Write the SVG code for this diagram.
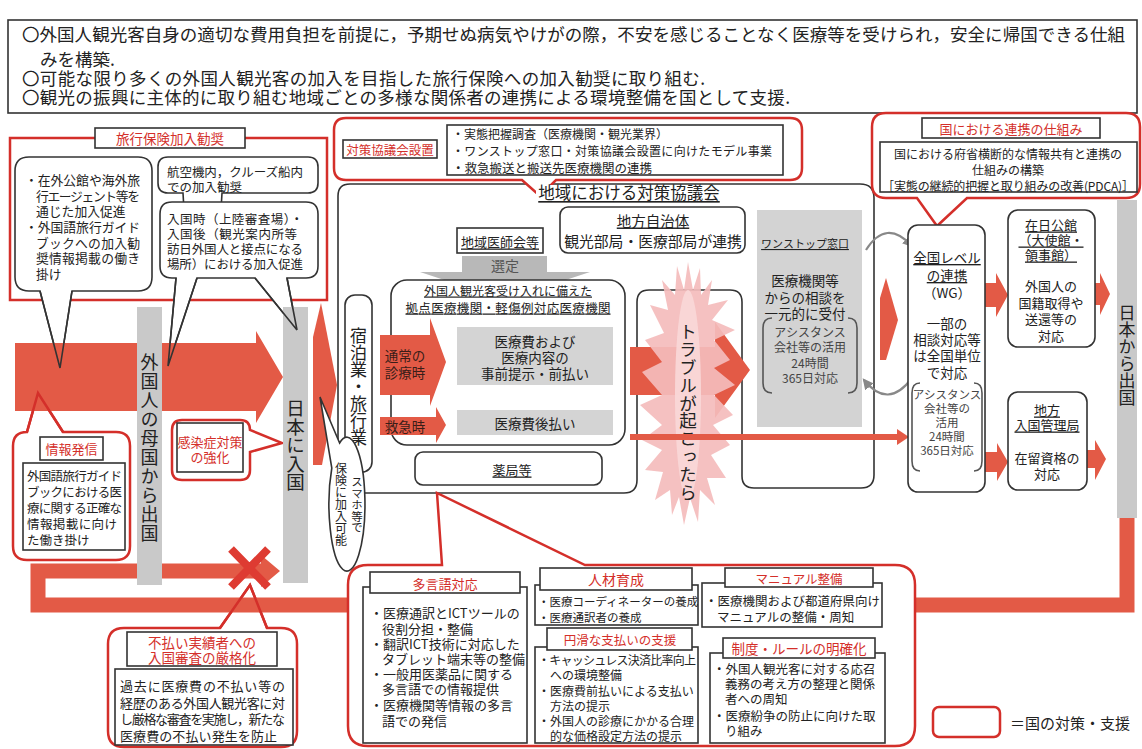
<svg xmlns="http://www.w3.org/2000/svg" width="1142" height="749" viewBox="0 0 1142 749">
<style>
text{font-family:"Noto Sans CJK JP","Noto Sans",sans-serif;fill:#222;dominant-baseline:central}
.r{fill:#d42f2a}
.c{text-anchor:middle}
.u{text-decoration:underline}
.v{writing-mode:vertical-rl;text-orientation:upright}
.bk{fill:#fff;stroke:#333;stroke-width:1.6}
.rd{fill:#fff;stroke:#d42f2a;stroke-width:2.5}
.ln{fill:none;stroke:#333;stroke-width:1.6}
.rl{fill:none;stroke:#d42f2a;stroke-width:2.5}
.ar{fill:#e35a46}
.bar{fill:#c9c9c9}
.gp{fill:#d4d4d4}
.br{fill:none;stroke:#555;stroke-width:1.6}
.gs{fill:#444}
</style>
<defs>
<marker id="ga" viewBox="0 0 10 10" refX="8" refY="5" markerWidth="5" markerHeight="5" orient="auto"><path d="M0,0 L10,5 L0,10 z" fill="#888"/></marker>
</defs>
<rect width="1142" height="749" fill="#fff"/>

<g id="header">
<rect x="8" y="20" width="1129" height="93" class="bk"/>
<text x="22" y="33" font-size="17.5" textLength="1103">〇外国人観光客自身の適切な費用負担を前提に，予期せぬ病気やけがの際，不安を感じることなく医療等を受けられ，安全に帰国できる仕組</text>
<text x="40" y="58" font-size="17.5">みを構築.</text>
<text x="22" y="77" font-size="17.5" textLength="683">〇可能な限り多くの外国人観光客の加入を目指した旅行保険への加入勧奨に取り組む.</text>
<text x="22" y="96" font-size="17.5" textLength="768">〇観光の振興に主体的に取り組む地域ごとの多様な関係者の連携による環境整備を国として支援.</text>
</g>

<g id="travel-insurance">
<rect x="10" y="138" width="317" height="162" class="rl"/>
<rect x="95" y="128" width="150" height="20" class="bk"/>
<text x="170" y="138" class="r c" font-size="13.5">旅行保険加入勧奨</text>
</g>

<g id="bubble-embassy">
<path d="M 29 157 H 138 Q 152 157 152 171 V 277 Q 152 291 138 291 H 72 L 60 368 L 40 291 H 29 Q 15 291 15 277 V 171 Q 15 157 29 157 Z" class="bk"/>
<text x="25" y="179" font-size="12.8" textLength="115">・在外公館や海外旅</text>
<text x="36" y="195" font-size="12.8" textLength="104">行エージェント等を</text>
<text x="36" y="210" font-size="12.8">通じた加入促進</text>
<text x="25" y="226" font-size="12.8" textLength="115">・外国語旅行ガイド</text>
<text x="36" y="242" font-size="12.8" textLength="104">ブックへの加入勧</text>
<text x="36" y="257" font-size="12.8" textLength="104">奨情報掲載の働き</text>
<text x="36" y="273" font-size="12.8">掛け</text>
</g>

<g id="bubble-aircraft">
<path d="M 168 157 H 308 Q 318 157 318 167 V 183 Q 318 193 308 193 H 222 L 221 210 L 184 210 L 183 193 H 168 Q 158 193 158 183 V 167 Q 158 157 168 157 Z" class="bk"/>
<text x="167" y="171" font-size="12.5" textLength="136">航空機内，クルーズ船内</text>
<text x="167" y="186" font-size="12.5">での加入勧奨</text>
</g>

<g id="bubble-entry">
<path d="M 172 202 H 306 Q 318 202 318 214 V 266 Q 318 278 306 278 H 287 L 297 330 L 255 278 H 197 L 168 366 L 176 278 H 172 Q 160 278 160 266 V 214 Q 160 202 172 202 Z" class="bk"/>
<text x="167" y="218" font-size="12.5" textLength="136">入国時（上陸審査場）・</text>
<text x="167" y="233" font-size="12.5" textLength="130">入国後（観光案内所等</text>
<text x="167" y="248" font-size="12.5" textLength="136">訪日外国人と接点になる</text>
<text x="167" y="263" font-size="12.5" textLength="136">場所）における加入促進</text>
</g>

<g id="info-callout">
<path d="M 27 432 L 38 393 L 63 432 H 116 Q 130 432 130 446 V 546 Q 130 560 116 560 H 27 Q 13 560 13 546 V 446 Q 13 432 27 432 Z" class="rd"/>
<rect x="40" y="437" width="63" height="23" class="bk"/>
<text x="71.5" y="448.5" class="r c" font-size="13">情報発信</text>
<rect x="23" y="463" width="102" height="87" class="bk"/>
<text x="27" y="475" font-size="12.5" textLength="95">外国語旅行ガイド</text>
<text x="27" y="491" font-size="12.5" textLength="95">ブックにおける医</text>
<text x="27" y="507" font-size="12.5" textLength="95">療に関する正確な</text>
<text x="27" y="523" font-size="12.5" textLength="90">情報掲載に向け</text>
<text x="27" y="539" font-size="12.5">た働き掛け</text>
</g>

<g id="infection-callout">
<path d="M 182 420 H 240 Q 250 420 250 430 L 282 443 L 250 452 V 470 Q 250 480 240 480 H 182 Q 172 480 172 470 V 430 Q 172 420 182 420 Z" class="rd"/>
<rect x="177" y="423" width="66" height="49" class="bk"/>
<text x="210" y="441" class="r c" font-size="13">感染症対策</text>
<text x="210" y="456" class="r c" font-size="13">の強化</text>
</g>

<g id="nonpayment-callout">
<path d="M 124 628 H 220 L 250 585 L 267 628 H 281 Q 297 628 297 644 V 731 Q 297 747 281 747 H 124 Q 108 747 108 731 V 644 Q 108 628 124 628 Z" class="rd"/>
<rect x="127" y="632" width="150" height="34" class="bk"/>
<text x="202" y="642" class="r c" font-size="13.5">不払い実績者への</text>
<text x="202" y="657" class="r c" font-size="13.5">入国審査の厳格化</text>
<rect x="115" y="669" width="178" height="76" class="bk"/>
<text x="120" y="685" font-size="13" textLength="165">過去に医療費の不払い等の</text>
<text x="120" y="702" font-size="13" textLength="165">経歴のある外国人観光客に対</text>
<text x="120" y="718" font-size="13" textLength="165">し厳格な審査を実施し，新たな</text>
<text x="120" y="735" font-size="13" textLength="157">医療費の不払い発生を防止</text>
</g>

<g id="council-frame">
<path d="M 350 184 H 860 Q 874 184 874 198 V 475 Q 874 488 861 488 H 754 Q 742 488 742 476 V 302 Q 742 290 730 290 H 649 Q 637 290 637 302 V 480 Q 637 493 624 493 H 350 Q 338 493 338 481 V 196 Q 338 184 350 184 Z" class="ln"/>
</g>

<g id="council-setup-callout">
<path d="M 346 118 H 790 Q 802 118 802 130 V 168 Q 802 180 790 180 H 556 L 540 196 L 522 180 H 346 Q 334 180 334 168 V 130 Q 334 118 346 118 Z" class="rd"/>
<rect x="343" y="140" width="94" height="18" class="bk"/>
<text x="390" y="149" class="r c" font-size="12.5">対策協議会設置</text>
<rect x="447" y="125" width="336" height="50" class="bk"/>
<text x="452" y="133" font-size="12">・実態把握調査（医療機関・観光業界）</text>
<text x="452" y="150" font-size="12" textLength="320">・ワンストップ窓口・対策協議会設置に向けたモデル事業</text>
<text x="452" y="167" font-size="12.5">・救急搬送と搬送先医療機関の連携</text>
</g>

<g id="council-title">
<rect x="536" y="185" width="186" height="18" fill="#fff"/>
<text x="629" y="192" class="c u" font-size="16.5">地域における対策協議会</text>
</g>

<g id="connectors">
<polygon points="15,343 256,343 256,331 283,377 256,423 256,411 15,411" class="ar"/>
<polygon points="313,337 321,303 337,385 322,465 313,465" class="ar"/>
<polyline points="1127,518 1127,605 38,605 38,571 262,571" fill="none" stroke="#e35a46" stroke-width="15"/>
<polygon points="261,555 280,571 261,587" class="ar"/>
<path d="M 231 549 L 268 587 M 268 549 L 231 587" stroke="#de3b32" stroke-width="8"/>
<polygon points="630,347 715,347 715,322 750,370 715,418 715,395 630,395" class="ar"/>
<polygon points="880,298 886,278 898,320 886,360 880,360" class="ar"/>
<polygon points="985,283 996,283 996,273 1008,295 996,317 996,307 985,307" class="ar"/>
<polygon points="1095,283 1100,283 1100,273 1110,294 1100,315 1100,305 1095,305" class="ar"/>
<polygon points="985,452 997,452 997,443 1008,462 997,481 997,472 985,472" class="ar"/>
<polygon points="1087,450 1095,450 1095,440 1106,459 1095,480 1095,468 1087,468" class="ar"/>
<path d="M 866 250 Q 886 218 912 246" fill="none" stroke="#888" stroke-width="2.2" marker-end="url(#ga)"/>
<path d="M 912 378 Q 888 410 864 380" fill="none" stroke="#888" stroke-width="2.2" marker-end="url(#ga)"/>
</g>

<g id="bar-home-departure">
<rect x="137" y="307" width="25" height="278" class="bar"/>
<text x="149.5" y="353" class="v" font-size="18" letter-spacing="1">外国人の母国から出国</text>
</g>
<g id="bar-japan-entry">
<rect x="283" y="307" width="25" height="276" class="bar"/>
<text x="295.5" y="399" class="v" font-size="18.5">日本に入国</text>
</g>
<g id="bar-japan-departure">
<rect x="1117" y="200" width="20" height="318" class="bar"/>
<text x="1127" y="304" class="v" font-size="17">日本から出国</text>
</g>

<g id="callout-tails" fill="none">
<polyline points="40,291 60,368 72,291" stroke="#333" stroke-width="1.6"/>
<polyline points="176,278 168,366 197,278" stroke="#333" stroke-width="1.6"/>
<polyline points="255,278 297,330 287,278" stroke="#333" stroke-width="1.6"/>
<polyline points="27,432 38,393 63,432" stroke="#d42f2a" stroke-width="2.5"/>
<polyline points="220,628 250,585 267,628" stroke="#d42f2a" stroke-width="2.5"/>
</g>

<g id="lodging">
<rect x="345" y="295" width="27" height="177" rx="10" class="bk"/>
<text x="358.5" y="327" class="v" font-size="17">宿泊業・旅行業</text>
</g>

<g id="smartphone-bubble">
<path d="M 339.6 443 L 320 397 L 331.8 468 A 18 67 0 1 0 339.6 443 Z" class="bk"/>
<text x="357" y="476" class="v" font-size="11.5">スマホ等で</text>
<text x="341" y="462" class="v" font-size="12">保険に加入可能</text>
</g>

<g id="medical-association">
<rect x="457" y="228" width="86" height="25" class="bk"/>
<text x="500" y="241" class="c u" font-size="13">地域医師会等</text>
</g>

<g id="local-government">
<rect x="560" y="207" width="185" height="46" rx="8" class="bk"/>
<text x="653" y="220" class="c u" font-size="14.5">地方自治体</text>
<text x="653" y="240" class="c" font-size="14.8">観光部局・医療部局が連携</text>
</g>

<g id="selection">
<polygon points="462,256 547,256 547,272 590,272 505,300 420,272 462,272" fill="#b8b8b8"/>
<text x="505" y="265" class="c" font-size="14" style="fill:#555">選定</text>
</g>

<g id="hospitals">
<rect x="391" y="280" width="234" height="165" rx="16" class="bk"/>
<text x="508" y="290" class="c u" font-size="12">外国人観光客受け入れに備えた</text>
<text x="508" y="307" class="c u" font-size="12.5" textLength="205">拠点医療機関・軽傷例対応医療機関</text>
<rect x="457" y="327" width="156" height="58" class="gp"/>
<text x="535" y="341" class="c" font-size="13.5">医療費および</text>
<text x="535" y="357" class="c" font-size="13.5">医療内容の</text>
<text x="535" y="373" class="c" font-size="13.5">事前提示・前払い</text>
<rect x="457" y="410" width="156" height="25" class="gp"/>
<text x="535" y="423" class="c" font-size="13.5">医療費後払い</text>
<polygon points="380,335 430,335 430,318 446,362 430,406 430,395 380,395" class="ar"/>
<text x="405" y="355" class="c" font-size="13.5" style="fill:#3a1d18">通常の</text>
<text x="405" y="372" class="c" font-size="13.5" style="fill:#3a1d18">診療時</text>
<polygon points="380,417 436,417 436,407 446,425 436,443 436,435 380,435" class="ar"/>
<text x="405" y="426" class="c" font-size="13.5" style="fill:#3a1d18">救急時</text>
</g>

<g id="pharmacy">
<rect x="415" y="452" width="187" height="33" rx="8" class="bk"/>
<text x="512" y="469" class="c u" font-size="13">薬局等</text>
</g>

<g id="trouble">
<polygon points="688,262 693,290 700,268 701,295 712,280 708,305 728,300 712,320 735,330 714,340 730,360 714,368 735,385 714,395 733,415 713,425 730,445 711,455 726,478 707,478 715,505 700,490 698,522 690,498 684,525 679,497 672,515 670,490 655,500 663,472 645,470 662,450 642,440 662,425 640,405 662,395 642,372 662,362 645,340 664,333 650,305 668,310 662,280 675,295 677,266 684,290" fill="#f4bcbc" opacity="0.92"/>
<ellipse cx="688" cy="395" rx="13" ry="105" fill="#f9d8d8" opacity="0.9"/>
<text x="688" y="323" class="v" font-size="17.5" letter-spacing="0.3">トラブルが起こったら</text>
</g>

<g id="red-line">
<line x1="630" y1="437" x2="898" y2="437" stroke="#e35a46" stroke-width="6"/>
<polygon points="897,429 909,437 897,445" class="ar"/>
</g>

<g id="one-stop">
<rect x="757" y="210" width="105" height="217" fill="#d3d3d3"/>
<text x="805" y="243" class="c u" font-size="11">ワンストップ窓口</text>
<text x="805" y="280" class="c" font-size="13.5">医療機関等</text>
<text x="805" y="297" class="c" font-size="13.5">からの相談を</text>
<text x="805" y="313" class="c" font-size="13.5">一元的に受付</text>
<path d="M 772 318 Q 763 318 763 328 V 383 Q 763 393 772 393 M 848 318 Q 857 318 857 328 V 383 Q 857 393 848 393" class="br"/>
<text x="810" y="331" class="c gs" font-size="12">アシスタンス</text>
<text x="810" y="346" class="c gs" font-size="12">会社等の活用</text>
<text x="810" y="362" class="c gs" font-size="12">24時間</text>
<text x="810" y="377" class="c gs" font-size="12">365日対応</text>
</g>

<g id="national-callout">
<path d="M 886 113 H 1126 Q 1140 113 1140 127 V 184 Q 1140 198 1126 198 H 967 L 937 226 L 917 198 H 886 Q 872 198 872 184 V 127 Q 872 113 886 113 Z" class="rd"/>
<rect x="922" y="118" width="178" height="20" class="bk"/>
<text x="1011" y="128" class="r c" font-size="13">国における連携の仕組み</text>
<rect x="880" y="142" width="257" height="50" class="bk"/>
<text x="1008" y="153" class="c" font-size="12">国における府省横断的な情報共有と連携の</text>
<text x="1008" y="169" class="c" font-size="12">仕組みの構築</text>
<text x="1008" y="185" class="c" font-size="12" textLength="252">［実態の継続的把握と取り組みの改善(PDCA)］</text>
</g>

<g id="national-level">
<rect x="908" y="225" width="77" height="267" rx="10" class="bk"/>
<text x="947" y="257" class="c u" font-size="13.5">全国レベル</text>
<text x="947" y="275" class="c u" font-size="13.5">の連携</text>
<text x="947" y="292" class="c" font-size="13.5">（WG）</text>
<text x="947" y="323" class="c" font-size="13.5">一部の</text>
<text x="947" y="339" class="c" font-size="13.5">相談対応等</text>
<text x="947" y="355" class="c" font-size="13.5">は全国単位</text>
<text x="947" y="372" class="c" font-size="13.5">で対応</text>
<path d="M 920 383 Q 912 383 912 393 V 461 Q 912 471 920 471 M 974 383 Q 982 383 982 393 V 461 Q 982 471 974 471" class="br"/>
<text x="947" y="394" class="c gs" font-size="11.5">アシスタンス</text>
<text x="947" y="408" class="c gs" font-size="11.5">会社等の</text>
<text x="947" y="422" class="c gs" font-size="11.5">活用</text>
<text x="947" y="436" class="c gs" font-size="11.5">24時間</text>
<text x="947" y="450" class="c gs" font-size="11.5">365日対応</text>
</g>

<g id="embassy">
<rect x="1008" y="210" width="87" height="137" rx="10" class="bk"/>
<text x="1051" y="224" class="c u" font-size="13">在日公館</text>
<text x="1051" y="239" class="c u" font-size="13">（大使館・</text>
<text x="1051" y="254" class="c u" font-size="13">領事館）</text>
<text x="1051" y="285" class="c" font-size="13">外国人の</text>
<text x="1051" y="302" class="c" font-size="13">国籍取得や</text>
<text x="1051" y="318" class="c" font-size="13">送還等の</text>
<text x="1051" y="335" class="c" font-size="13">対応</text>
</g>

<g id="immigration">
<rect x="1008" y="392" width="79" height="98" rx="10" class="bk"/>
<text x="1047" y="409" class="c u" font-size="13">地方</text>
<text x="1047" y="424" class="c u" font-size="13">入国管理局</text>
<text x="1047" y="457" class="c" font-size="13">在留資格の</text>
<text x="1047" y="473" class="c" font-size="13">対応</text>
</g>

<g id="support-callout">
<path d="M 368 565 H 442 L 437 493 L 585 565 H 895 Q 915 565 915 585 V 726 Q 915 746 895 746 H 368 Q 348 746 348 726 V 585 Q 348 565 368 565 Z" class="rd"/>
</g>

<g id="multilingual">
<rect x="363" y="587" width="164" height="156" class="bk"/>
<rect x="370" y="572" width="150" height="21" class="bk"/>
<text x="445" y="583" class="r c" font-size="13">多言語対応</text>
<text x="370" y="612" font-size="13">・医療通訳とICTツールの</text>
<text x="382" y="628" font-size="13">役割分担・整備</text>
<text x="370" y="643" font-size="13">・翻訳ICT技術に対応した</text>
<text x="382" y="658" font-size="13">タブレット端末等の整備</text>
<text x="370" y="673" font-size="13">・一般用医薬品に関する</text>
<text x="382" y="688" font-size="13">多言語での情報提供</text>
<text x="370" y="704" font-size="13">・医療機関等情報の多言</text>
<text x="382" y="720" font-size="13">語での発信</text>
</g>

<g id="human-resources">
<rect x="535" y="585" width="163" height="40" class="bk"/>
<rect x="540" y="568" width="152" height="22" class="bk"/>
<text x="616" y="579" class="r c" font-size="14">人材育成</text>
<text x="538" y="601" font-size="11.5">・医療コーディネーターの養成</text>
<text x="538" y="617" font-size="11.5">・医療通訳者の養成</text>
</g>

<g id="payment-support">
<rect x="535" y="647" width="163" height="96" class="bk"/>
<rect x="547" y="628" width="145" height="22" class="bk"/>
<text x="620" y="639" class="r c" font-size="12.5">円滑な支払いの支援</text>
<text x="538" y="659" font-size="12" textLength="158">・キャッシュレス決済比率向上</text>
<text x="550" y="674" font-size="12">への環境整備</text>
<text x="538" y="690" font-size="12">・医療費前払いによる支払い</text>
<text x="550" y="705" font-size="12">方法の提示</text>
<text x="538" y="720" font-size="12">・外国人の診療にかかる合理</text>
<text x="550" y="735" font-size="12">的な価格設定方法の提示</text>
</g>

<g id="manual">
<rect x="702" y="583" width="180" height="44" class="bk"/>
<rect x="725" y="568" width="148" height="19" class="bk"/>
<text x="799" y="578" class="r c" font-size="12.5">マニュアル整備</text>
<text x="705" y="600" font-size="12.5">・医療機関および都道府県向け</text>
<text x="717" y="616" font-size="12.5">マニュアルの整備・周知</text>
</g>

<g id="rules">
<rect x="710" y="653" width="175" height="90" class="bk"/>
<rect x="723" y="638" width="152" height="20" class="bk"/>
<text x="799" y="648" class="r c" font-size="13.5">制度・ルールの明確化</text>
<text x="713" y="668" font-size="12.5">・外国人観光客に対する応召</text>
<text x="725" y="683" font-size="12.5">義務の考え方の整理と関係</text>
<text x="725" y="698" font-size="12.5">者への周知</text>
<text x="713" y="715" font-size="12.5">・医療紛争の防止に向けた取</text>
<text x="725" y="730" font-size="12.5">り組み</text>
</g>

<g id="legend">
<rect x="933" y="707" width="67" height="30" rx="6" class="rd"/>
<text x="1010" y="722" font-size="15">＝国の対策・支援</text>
</g>
</svg>
